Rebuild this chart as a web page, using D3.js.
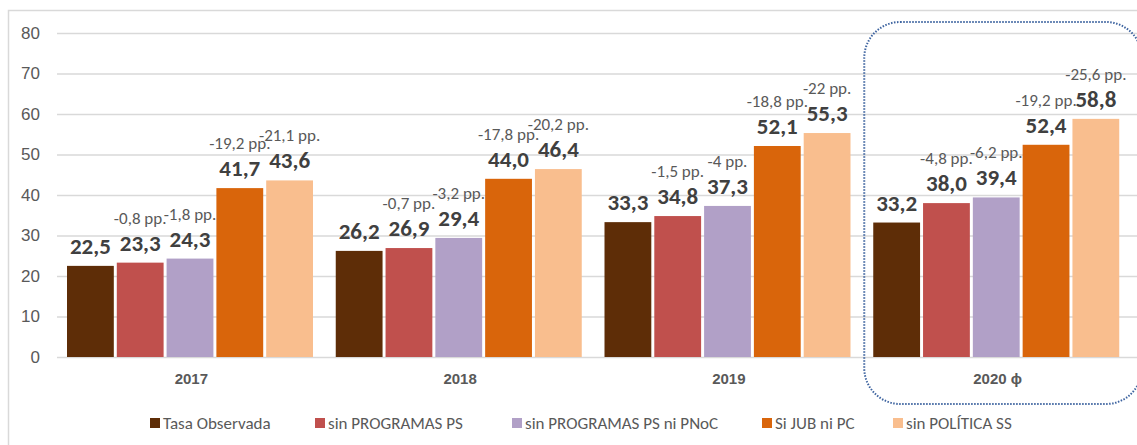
<!DOCTYPE html>
<html lang="es">
  <head>
    <meta charset="utf-8" />
    <title>Tasa observada y simulaciones</title>
    <script src="https://cdn.jsdelivr.net/npm/d3@7"></script>
    <style>
      body { margin: 0; background: #fff; }
      svg { display: block; font-family: Carlito, Calibri, Lato, sans-serif; }
    </style>
  </head>
  <body>
    <div id="root"></div>

    <script type="text/javascript">
      // ---- data ----
      const years = ["2017", "2018", "2019", "2020 ϕ"];
      const seriesNames = [
        "Tasa Observada",
        "sin PROGRAMAS PS",
        "sin PROGRAMAS PS ni PNoC",
        "Si JUB ni PC",
        "sin POLÍTICA SS",
      ];
      const tasaObservada = [22.5, 26.2, 33.3, 33.2];
      const sinProgramasPS = [23.3, 26.9, 34.8, 38.0];
      const sinProgramasPNoC = [24.3, 29.4, 37.3, 39.4];
      const siJubNiPC = [41.7, 44.0, 52.1, 52.4];
      const sinPoliticaSS = [43.6, 46.4, 55.3, 58.8];
      // difference labels (pp.) for each simulated series
      const ppSinProgramasPS = ["-0,8 pp.", "-0,7 pp.", "-1,5 pp.", "-4,8 pp."];
      const ppSinProgramasPNoC = ["-1,8 pp.", "-3,2 pp.", "-4 pp.", "-6,2 pp."];
      const ppSiJubNiPC = ["-19,2 pp.", "-17,8 pp.", "-18,8 pp.", "-19,2 pp."];
      const ppSinPoliticaSS = ["-21,1 pp.", "-20,2 pp.", "-22 pp.", "-25,6 pp."];
      const yTicks = [0, 10, 20, 30, 40, 50, 60, 70, 80];

      const seriesValues = [tasaObservada, sinProgramasPS, sinProgramasPNoC, siJubNiPC, sinPoliticaSS];
      const seriesPP = [null, ppSinProgramasPS, ppSinProgramasPNoC, ppSiJubNiPC, ppSinPoliticaSS];
      const colors = ["#5e2d07", "#c0504d", "#b1a0c7", "#d9650b", "#f9be8e"];

      // ---- layout ----
      const width = 1137;
      const height = 445;
      const marginLeft = 57;
      const marginTop = 33;
      const plotRight = 1132;
      const plotBottom = 357;

      const svg = d3.select("#root").append("svg")
        .attr("width", width)
        .attr("height", height);

      // chart frame (partially cropped like the source)
      svg.append("path")
        .attr("d", `M8.5,${height} V10.5 H${width}`)
        .attr("fill", "none")
        .attr("stroke", "#d9d9d9")
        .attr("stroke-width", 1.5);

      const y = d3.scaleLinear().domain([0, 80]).range([plotBottom, marginTop]);
      const x0 = d3.scaleBand().domain(years).range([marginLeft, plotRight]);
      const x1 = d3.scaleBand()
        .domain(d3.range(seriesNames.length))
        .range([10, 256])
        .paddingInner(0.06);

      // y axis with gridlines
      const yAxis = svg.append("g")
        .attr("transform", `translate(${marginLeft},0)`)
        .call(d3.axisLeft(y).tickValues(yTicks).tickSize(-(width - marginLeft)).tickPadding(17));
      yAxis.select(".domain").remove();
      yAxis.selectAll(".tick line").attr("stroke", "#d9d9d9").attr("stroke-width", 1.5);
      yAxis.selectAll(".tick text")
        .attr("fill", "#595959")
        .style("font-size", "17px");

      // x axis
      const xAxis = svg.append("g")
        .attr("transform", `translate(0,${plotBottom})`)
        .call(d3.axisBottom(x0).tickSize(0).tickPadding(16));
      xAxis.select(".domain").remove();
      xAxis.selectAll(".tick text")
        .attr("fill", "#595959")
        .style("font-size", "15px")
        .style("font-weight", "bold");

      // bars
      const groups = svg.append("g").selectAll("g")
        .data(years)
        .join("g")
        .attr("transform", d => `translate(${x0(d)},0)`);

      groups.selectAll("rect")
        .data((d, i) => seriesValues.map((vals, s) => ({ s, v: vals[i] })))
        .join("rect")
        .attr("x", d => x1(d.s))
        .attr("width", x1.bandwidth())
        .attr("y", d => y(d.v))
        .attr("height", d => y(0) - y(d.v))
        .attr("fill", d => colors[d.s]);

      // value labels
      groups.selectAll("text.val")
        .data((d, i) => seriesValues.map((vals, s) => ({ s, v: vals[i] })))
        .join("text")
        .attr("class", "val")
        .attr("x", d => x1(d.s) + x1.bandwidth() / 2)
        .attr("y", d => y(d.v) - 12)
        .attr("text-anchor", "middle")
        .attr("fill", "#404040")
        .style("font-size", "23px")
        .style("font-weight", "bold")
        .text(d => d3.format(".1f")(d.v).replace(".", ","));

      // pp labels
      groups.selectAll("text.pp")
        .data((d, i) => seriesValues.map((vals, s) => ({ s, v: vals[i], pp: seriesPP[s] ? seriesPP[s][i] : null })).filter(d => d.pp))
        .join("text")
        .attr("class", "pp")
        .attr("x", d => x1(d.s) + x1.bandwidth() / 2)
        .attr("y", d => y(d.v) - 39)
        .attr("text-anchor", "middle")
        .attr("fill", "#595959")
        .style("font-size", "17px")
        .text(d => d.pp);

      // dotted highlight around the last year
      const hx = x0(years[3]) + 1;
      svg.append("rect")
        .attr("x", hx)
        .attr("y", 22)
        .attr("width", 1142 - hx)
        .attr("height", 382)
        .attr("rx", 36)
        .attr("ry", 36)
        .attr("fill", "none")
        .attr("stroke", "#3e64a0")
        .attr("stroke-width", 2)
        .attr("stroke-dasharray", "1.5,1.5");

      // legend
      const legendX = [150, 315, 512, 762, 893];
      const legend = svg.append("g").selectAll("g")
        .data(seriesNames)
        .join("g")
        .attr("transform", (d, i) => `translate(${legendX[i]},423)`);
      legend.append("rect")
        .attr("x", 0)
        .attr("y", -5)
        .attr("width", 10)
        .attr("height", 10)
        .attr("fill", (d, i) => colors[i]);
      legend.append("text")
        .attr("x", 13)
        .attr("y", 0)
        .attr("dy", "0.35em")
        .attr("fill", "#595959")
        .style("font-size", "17px")
        .text(d => d);
    </script>
  </body>
</html>
